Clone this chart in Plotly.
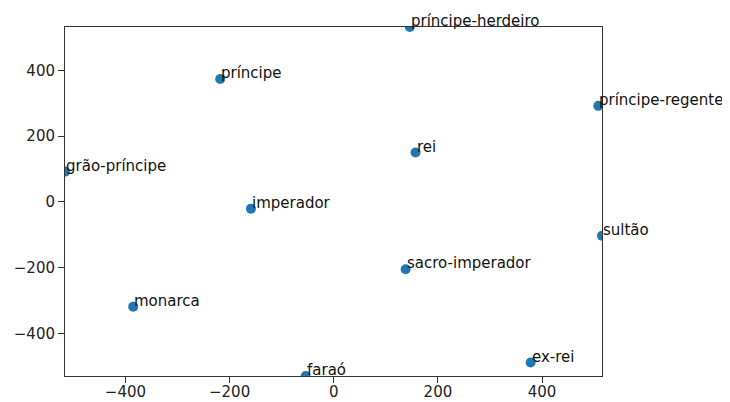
import plotly.graph_objects as go

words = ["príncipe-herdeiro", "príncipe", "príncipe-regente", "rei", "grão-príncipe",
         "imperador", "sultão", "sacro-imperador", "monarca", "ex-rei", "faraó"]
xs = [146, -218, 508, 157, -516, -159, 515, 138, -385, 378, -54]
ys = [532, 374, 292, 150, 92, -21, -103, -205, -319, -489, -530]

xticks = [-400, -200, 0, 200, 400]
yticks = [-400, -200, 0, 200, 400]

def lab(v):
    return ("\u2212" + str(abs(v))) if v < 0 else str(v)

FONT = "DejaVu Sans"
fig = go.Figure()
fig.add_trace(go.Scatter(
    x=xs, y=ys, mode="markers",
    marker=dict(size=10, color="#1f77b4"),
    cliponaxis=True, hoverinfo="skip", showlegend=False,
))
for w, x, y in zip(words, xs, ys):
    fig.add_annotation(x=x, y=y, text=w, showarrow=False, xanchor="left", yanchor="bottom",
                       xshift=-1, yshift=-5, font=dict(family=FONT, size=15, color="#111"))

axis_common = dict(showgrid=False, zeroline=False, showline=True, linecolor="#333", linewidth=1,
                   mirror=True, ticks="outside", ticklen=6, tickwidth=1, tickcolor="#333",
                   automargin=False,
                   tickfont=dict(family=FONT, size=15, color="#222"))
fig.update_xaxes(range=[min(xs), max(xs)], tickvals=xticks, ticktext=[lab(v) for v in xticks],
                 ticklabelstandoff=-4, **axis_common)
fig.update_yaxes(range=[min(ys), max(ys)], tickvals=yticks, ticktext=[lab(v) for v in yticks], **axis_common)
fig.update_layout(width=722, height=398, margin=dict(l=57, r=128, t=19, b=30),
                  plot_bgcolor="white", paper_bgcolor="white", font=dict(family=FONT))
fig.write_html("out.html")
